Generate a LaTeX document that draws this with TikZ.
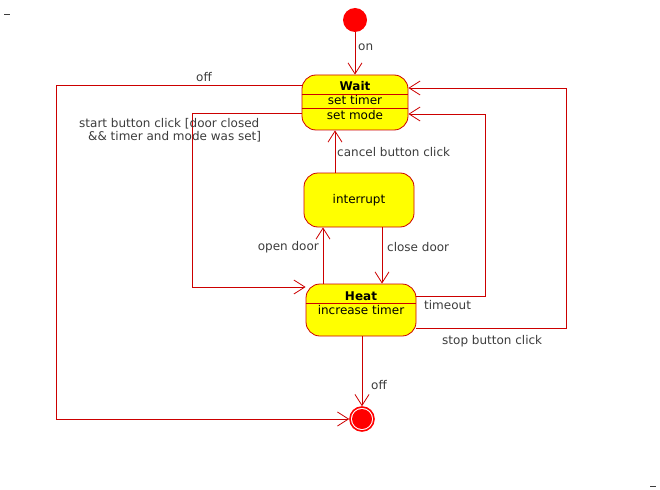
\documentclass[tikz,border=0pt]{standalone}
\usepackage{fontspec}
\setmainfont{DejaVu Sans}
\usepackage{tikz}
\usetikzlibrary{arrows.meta}
\usetikzlibrary{positioning}
\definecolor{umlred}{RGB}{204,0,0}
\definecolor{umlfill}{RGB}{255,255,0}
\definecolor{umldot}{RGB}{255,0,0}
\definecolor{umltext}{RGB}{60,60,60}
\tikzset{
    state/.style={draw=umlred, fill=umlfill, rounded corners=14pt, line width=0.8pt, inner sep=0pt},
    initstate/.style={circle, fill=umldot, minimum size=24pt, inner sep=0pt},
    finalstate/.style={circle, draw=umldot, line width=1.6pt, fill=white, minimum size=24pt, inner sep=0pt,
        path picture={\fill[umldot] (path picture bounding box.center) circle (10pt);}},
    trans/.style={draw=umlred, line width=0.8pt, -{Straight Barb[length=11pt,width=14pt]}},
    divider/.style={draw=umlred, line width=0.8pt},
    tlabel/.style={text=umltext, inner sep=0pt},
}

\begin{document}
\begin{tikzpicture}[x=1pt, y=-1pt, font=\fontsize{12}{13}\selectfont]
	\useasboundingbox (0,0) rectangle (660,489);
	% states
	\node[initstate] (init) at (355,20) {};
	\node[state, minimum width=106pt, minimum height=55pt] (wait) at (355,102.5) {};
	\node[state, minimum width=110pt, minimum height=54pt] (interrupt) at (359,200) {interrupt};
	\node[state, minimum width=110pt, minimum height=52pt] (heat) at (361,310) {};
	\node[finalstate] (final) at (362,419) {};
	\draw[divider] ([yshift=8.5pt]wait.west) -- ([yshift=8.5pt]wait.east);
	\draw[divider] ([yshift=-5.5pt]wait.west) -- ([yshift=-5.5pt]wait.east);
	\draw[divider] ([yshift=7pt]heat.west) -- ([yshift=7pt]heat.east);
	\node (waitTitle) at (355,86.5) {\bfseries Wait};
	\node (waitTimer) at (355,100.5) {set timer};
	\node (waitMode) at (355,115) {set mode};
	\node (heatTitle) at (361,296) {\bfseries Heat};
	\node (heatTimer) at (361,310) {increase timer};
	% transitions
	\draw[trans] (init) -- (wait);
	\coordinate (offCorner) at (56,419);
	\draw[trans] ([yshift=17.5pt]wait.west) -| (offCorner) -- (final);
	\coordinate (startCorner) at (192,287);
	\draw[trans] ([yshift=-10.5pt]wait.west) -| (startCorner) -- ([yshift=23pt]heat.west);
	\draw[trans] ([xshift=-24pt]interrupt.north) -- ([xshift=-20pt]wait.south);
	\draw[trans] ([xshift=-38pt]heat.north) -- ([xshift=-36pt]interrupt.south);
	\draw[trans] ([xshift=23pt]interrupt.south) -- ([xshift=21pt]heat.north);
	\coordinate (timeoutCorner) at (485,114);
	\draw[trans] ([yshift=14pt]heat.east) -| (timeoutCorner) -- ([yshift=-11.5pt]wait.east);
	\coordinate (stopCorner) at (566,88);
	\draw[trans] ([yshift=-18pt]heat.east) -| (stopCorner) -- ([yshift=14.5pt]wait.east);
	\draw[trans] (heat.south -| final) -- (final);
	% labels
	\node[tlabel, anchor=west] (onLabel) at (358,47) {on};
	\node[tlabel] (offLabel) at (204,77) {off};
	\node[tlabel, anchor=west, align=left] (startLabel) at (79,130) {start button click [door closed\\\hspace*{9pt}\&\& timer and mode was set]};
	\node[tlabel, anchor=west] (cancelLabel) at (337,152) {cancel button click};
	\node[tlabel, anchor=east] (openLabel) at (319,247) {open door};
	\node[tlabel, anchor=west] (closeLabel) at (387,247) {close door};
	\node[tlabel, anchor=west] (timeoutLabel) at (424,305) {timeout};
	\node[tlabel, anchor=west] (stopLabel) at (442,341) {stop button click};
	\node[tlabel, anchor=west] (offLabelB) at (371,385) {off};
	\draw[umltext, line width=0.6pt] (4,14) -- (10,14);
	\draw[umltext, line width=0.6pt] (650,486) -- (656,486);
\end{tikzpicture}
\end{document}
